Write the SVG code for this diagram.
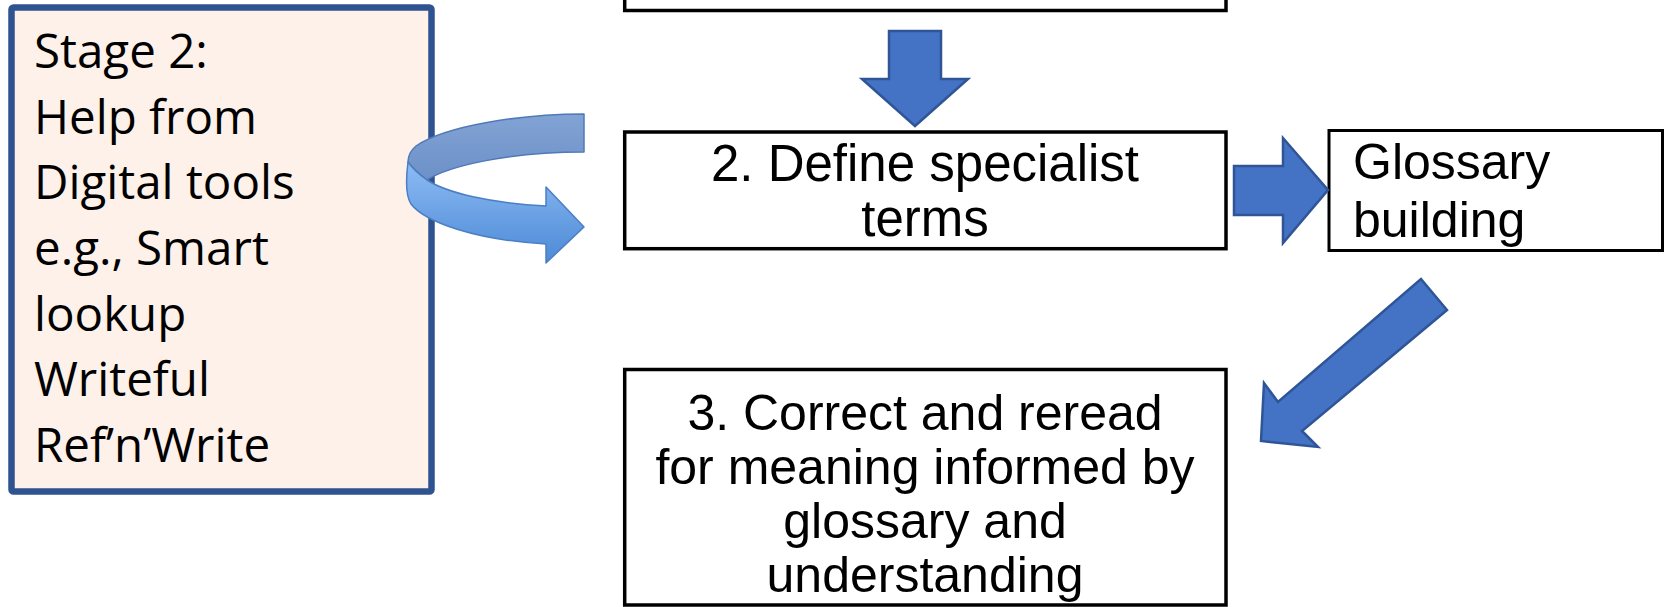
<svg xmlns="http://www.w3.org/2000/svg" width="1664" height="607" viewBox="0 0 1664 607">
  <defs>
    <linearGradient id="frontGrad" x1="0" y1="0" x2="0" y2="1">
      <stop offset="0" stop-color="#8DBBF4"/>
      <stop offset="1" stop-color="#4C8AD6"/>
    </linearGradient>
    <linearGradient id="backGrad" x1="0" y1="0" x2="0" y2="1">
      <stop offset="0" stop-color="#82A3D4"/>
      <stop offset="1" stop-color="#6C90C8"/>
    </linearGradient>
  </defs>
  <style>
    .box { fill: #FFFFFF; stroke: #000000; stroke-width: 3.5; }
    .stage { fill: #FDF1E9; stroke: #2F5290; stroke-width: 6.5; }
    .arrow { fill: #4472C4; stroke: #2F5597; stroke-width: 2.5; stroke-linejoin: miter; }
    .lbl { font-family: "Liberation Sans", Arial, sans-serif; font-size: 50px; fill: #000000; }
    .mid { text-anchor: middle; }
    .stg { font-family: "Open Sans", "Liberation Sans", sans-serif; font-size: 47.5px; fill: #000000; }
  </style>

  <g id="node-stage2">
    <rect class="stage" x="11.5" y="7.5" width="420" height="484" rx="2"/>
    <text class="stg" x="34" y="68">Stage 2:</text>
    <text class="stg" x="34" y="133.7">Help from</text>
    <text class="stg" x="34" y="199.3">Digital tools</text>
    <text class="stg" x="34" y="265">e.g., Smart</text>
    <text class="stg" x="34" y="330.7">lookup</text>
    <text class="stg" x="34" y="396.3">Writeful</text>
    <text class="stg" x="34" y="462">Ref’n’Write</text>
  </g>

  <g id="node-step1">
    <rect class="box" x="624.7" y="-20" width="601.3" height="30.5"/>
  </g>

  <g id="node-step2">
    <rect class="box" x="624.7" y="132" width="601.3" height="116.7"/>
    <text class="lbl mid" x="925" y="181" style="font-size:51px">2. Define specialist</text>
    <text class="lbl mid" x="925" y="236" style="font-size:51px">terms</text>
  </g>

  <g id="node-glossary">
    <rect class="box" x="1329" y="130.5" width="333.5" height="120" style="stroke-width:3"/>
    <text class="lbl" x="1353" y="179">Glossary</text>
    <text class="lbl" x="1353" y="237">building</text>
  </g>

  <g id="node-step3">
    <rect class="box" x="624.7" y="369.5" width="601.3" height="235.5"/>
    <text class="lbl mid" x="925" y="430">3. Correct and reread</text>
    <text class="lbl mid" x="925" y="484">for meaning informed by</text>
    <text class="lbl mid" x="925" y="538">glossary and</text>
    <text class="lbl mid" x="925" y="592">understanding</text>
  </g>

  <g id="connectors">
    <!-- down arrow step1 -> step2 -->
    <path class="arrow" d="M889,31 L941,31 L941,79 L968,79 L915,126 L862,79 L889,79 Z"/>
    <!-- right arrow step2 -> glossary -->
    <path class="arrow" d="M1234,166 L1283,166 L1283,138 L1328,190 L1283,243 L1283,215 L1234,215 Z"/>
    <!-- diagonal arrow glossary -> step3 -->
    <path class="arrow" d="M1421,279 L1447,310 L1302,431 L1318,447 L1261,441 L1264,383 L1278,402 Z"/>
    <!-- curved arrow stage2 -> step2 -->
    <g id="curved-arrow">
      <path d="M584,114 C 520,114 445,126 416,146 C 410,151 408,157 408,162 C 414,170 420,175 427,180 C 447,167 505,152 584,152 Z" fill="url(#backGrad)" stroke="#5079B8" stroke-width="1.5" stroke-linejoin="round"/>
      <path d="M408,162 C 406,178 405,195 411,204 C 425,222 475,240 546,244 L 546,263 L 584,227 L 546,187 L 546,206 C 490,203 447,193 427,180 C 420,175 413,169 408,162 Z" fill="url(#frontGrad)" stroke="#4A7FC4" stroke-width="1.5" stroke-linejoin="round"/>
    </g>
  </g>
</svg>
